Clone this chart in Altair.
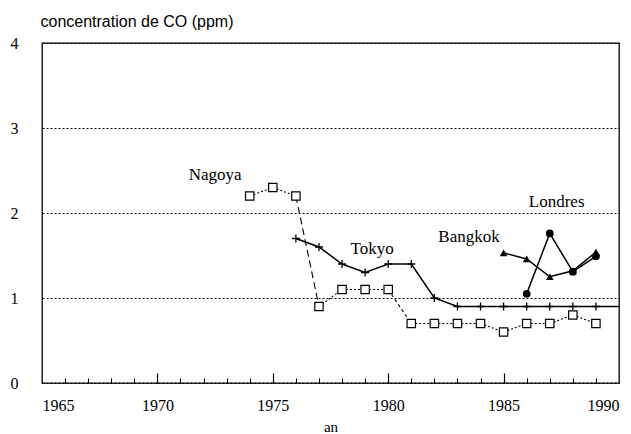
import altair as alt
import pandas as pd

# ---- data ----
nagoya_years = list(range(1974, 1990))
nagoya_values = [2.2, 2.3, 2.2, 0.9, 1.1, 1.1, 1.1, 0.7, 0.7, 0.7, 0.7, 0.6, 0.7, 0.7, 0.8, 0.7]
# line style of each segment between consecutive Nagoya points
nagoya_segment_style = ["dotted", "dotted", "dashed", "dotted", "dotted", "dotted", "short",
                        "dotted", "dotted", "dotted", "dotted", "dotted", "dotted", "dotted", "dotted"]

tokyo_years = list(range(1976, 1991))
tokyo_values = [1.7, 1.6, 1.4, 1.3, 1.4, 1.4, 1.0, 0.9, 0.9, 0.9, 0.9, 0.9, 0.9, 0.9, 0.9]

bangkok_years = [1985, 1986, 1987, 1988, 1989]
bangkok_values = [1.53, 1.46, 1.25, 1.32, 1.54]

londres_years = [1986, 1987, 1988, 1989]
londres_values = [1.05, 1.76, 1.31, 1.49]

label_names = ["Nagoya", "Tokyo", "Bangkok", "Londres"]
label_years = [1972.5, 1979.3, 1983.5, 1987.3]
label_values = [2.45, 1.58, 1.72, 2.13]

x_label_values = [1965, 1970, 1975, 1980, 1985, 1990]
x_major_ticks = [1970, 1975, 1980, 1985]
x_minor_ticks = [y for y in range(1966, 1990) if y % 5 != 0]
y_values = [0, 1, 2, 3, 4]

# ---- tables ----
nag = pd.DataFrame({"an": nagoya_years, "v": nagoya_values})
seg_rows = []
for i, style in enumerate(nagoya_segment_style):
    for j in (i, i + 1):
        seg_rows.append({"seg": i, "style": style, "an": nagoya_years[j], "v": nagoya_values[j]})
nag_seg = pd.DataFrame(seg_rows)
tok = pd.DataFrame({"an": tokyo_years, "v": tokyo_values})
bkk = pd.DataFrame({"an": bangkok_years, "v": bangkok_values})
lon = pd.DataFrame({"an": londres_years, "v": londres_values})
labels = pd.DataFrame({"name": label_names, "an": label_years, "v": label_values})

xs = alt.Scale(domain=[1965, 1990], nice=False, zero=False)
ys = alt.Scale(domain=[0, 4], nice=False)
SERIF = "Liberation Serif"

axis_labels = alt.Axis(values=x_label_values, format="d", orient="bottom", tickSize=0,
                       domain=False, grid=False, labelFont=SERIF, labelFontSize=16,
                       labelColor="black", labelPadding=14, title="an", titleFont=SERIF,
                       titleFontSize=15, titleFontWeight="normal", titleColor="black",
                       titlePadding=6)
axis_minor = alt.Axis(values=x_minor_ticks, orient="bottom", tickSize=5, offset=-5,
                      labels=False, domain=False, grid=False, title=None,
                      tickColor="black", tickWidth=1)
axis_major = alt.Axis(values=x_major_ticks, orient="bottom", tickSize=10, offset=-10,
                      labels=False, domain=False, grid=False, title=None,
                      tickColor="black", tickWidth=1.2)
axis_y = alt.Axis(values=y_values, format="d", tickSize=0, domain=False, grid=True,
                  gridColor="black", gridDash=[2, 2], gridWidth=1, gridOpacity=1,
                  labelFont=SERIF, labelFontSize=16, labelColor="black", labelPadding=24,
                  title="concentration de CO (ppm)", titleAngle=0, titleAlign="left",
                  titleBaseline="alphabetic", titleX=-2, titleY=-17,
                  titleFont="Liberation Sans", titleFontSize=16, titleFontWeight="normal",
                  titleColor="black")

Y = alt.Y("v:Q", scale=ys, axis=axis_y)

nag_line = alt.Chart(nag_seg).mark_line(color="black", strokeWidth=1.1).encode(
    x=alt.X("an:Q", scale=xs, axis=axis_labels),
    y=Y,
    detail="seg:N",
    strokeDash=alt.StrokeDash("style:N", legend=None,
                              scale=alt.Scale(domain=["dotted", "dashed", "short"],
                                              range=[[2, 2], [7, 4], [3, 3]])),
)
nag_pts = alt.Chart(nag).mark_point(shape="square", filled=True, fill="white", stroke="black",
                                    strokeWidth=1.2, size=70, opacity=1).encode(
    x=alt.X("an:Q", scale=xs, axis=None),
    y=Y,
)
tok_line = alt.Chart(tok).mark_line(color="black", strokeWidth=1.5).encode(
    x=alt.X("an:Q", scale=xs, axis=axis_minor),
    y=Y,
)
tok_pts = alt.Chart(tok).transform_filter("datum.an < 1990").mark_point(
    shape="M-1,0L1,0M0,-1L0,1", filled=False, stroke="black", strokeWidth=1.3, size=64,
    opacity=1).encode(
    x=alt.X("an:Q", scale=xs, axis=axis_major),
    y=Y,
)
bkk_line = alt.Chart(bkk).mark_line(color="black", strokeWidth=1.5).encode(
    x=alt.X("an:Q", scale=xs, axis=None),
    y=Y,
)
bkk_pts = alt.Chart(bkk).mark_point(shape="triangle-up", filled=True, color="black",
                                    size=60, opacity=1).encode(
    x=alt.X("an:Q", scale=xs, axis=None),
    y=Y,
)
lon_line = alt.Chart(lon).mark_line(color="black", strokeWidth=1.5).encode(
    x=alt.X("an:Q", scale=xs, axis=None),
    y=Y,
)
lon_pts = alt.Chart(lon).mark_point(shape="circle", filled=True, color="black",
                                    size=60, opacity=1).encode(
    x=alt.X("an:Q", scale=xs, axis=None),
    y=Y,
)
txt = alt.Chart(labels).mark_text(font=SERIF, fontSize=17, color="black").encode(
    x=alt.X("an:Q", scale=xs, axis=None),
    y=Y,
    text="name:N",
)

chart = alt.layer(
    nag_line, tok_line, tok_pts, nag_pts, bkk_line, lon_line, bkk_pts, lon_pts, txt
).resolve_axis(x="independent", y="shared").properties(
    width=577, height=340,
    autosize=alt.AutoSizeParams(type="none"),
    padding={"left": 34, "top": 35, "right": 4, "bottom": 54},
    background="white",
).configure_view(stroke="black", strokeWidth=1.3)

chart.save("out.html", embed_options={"renderer": "svg", "actions": False})
